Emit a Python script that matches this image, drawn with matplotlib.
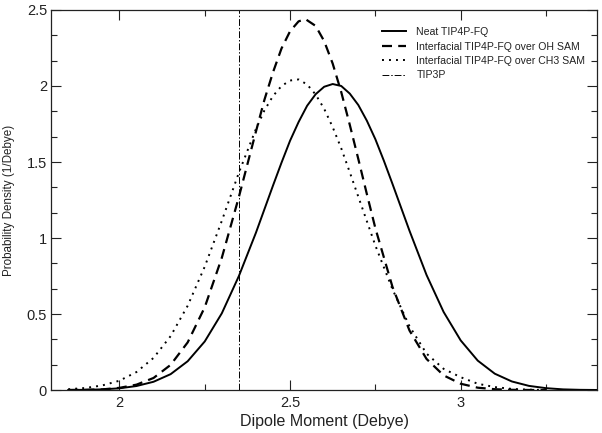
import matplotlib
matplotlib.use("Agg")
import matplotlib.pyplot as plt
from matplotlib.ticker import MultipleLocator, FuncFormatter

plt.rcParams["font.family"] = ["Liberation Sans", "DejaVu Sans"]

# ── Data ──────────────────────────────────────────────────────────────────────
neat_x = [1.85, 1.90, 1.95, 2.00, 2.05, 2.10, 2.15, 2.20, 2.25, 2.30, 2.35,
          2.40, 2.45, 2.475, 2.50, 2.525, 2.55, 2.575, 2.60, 2.625, 2.65,
          2.675, 2.70, 2.725, 2.75, 2.775, 2.80, 2.85, 2.90, 2.95, 3.00,
          3.05, 3.10, 3.15, 3.20, 3.25, 3.30, 3.35, 3.40]
neat_y = [0.001, 0.002, 0.005, 0.012, 0.027, 0.055, 0.105, 0.19, 0.32, 0.505,
          0.75, 1.035, 1.345, 1.496, 1.64, 1.763, 1.87, 1.946, 1.995, 2.013,
          2.0, 1.95, 1.875, 1.772, 1.65, 1.508, 1.357, 1.048, 0.757, 0.514,
          0.327, 0.194, 0.108, 0.057, 0.028, 0.013, 0.005, 0.002, 0.001]

oh_x = [1.85, 1.90, 1.95, 2.00, 2.05, 2.10, 2.15, 2.20, 2.25, 2.30, 2.35,
        2.40, 2.425, 2.45, 2.475, 2.50, 2.525, 2.545, 2.575, 2.60, 2.625,
        2.65, 2.675, 2.70, 2.725, 2.75, 2.80, 2.85, 2.90, 2.95, 3.00, 3.05,
        3.10, 3.15, 3.20, 3.25]
oh_y = [0.001, 0.002, 0.005, 0.015, 0.036, 0.08, 0.166, 0.314, 0.545, 0.87,
        1.27, 1.70, 1.91, 2.09, 2.247, 2.36, 2.425, 2.44, 2.395, 2.295,
        2.147, 1.96, 1.745, 1.52, 1.29, 1.065, 0.68, 0.392, 0.205, 0.097,
        0.042, 0.016, 0.006, 0.002, 0.001, 0.0]

ch3_x = [1.85, 1.90, 1.95, 2.00, 2.05, 2.10, 2.15, 2.20, 2.25, 2.30, 2.35,
         2.40, 2.425, 2.45, 2.475, 2.50, 2.525, 2.55, 2.575, 2.60, 2.625,
         2.65, 2.675, 2.70, 2.75, 2.80, 2.85, 2.90, 2.95, 3.00, 3.05, 3.10,
         3.15, 3.20, 3.25]
ch3_y = [0.006, 0.014, 0.031, 0.062, 0.119, 0.212, 0.355, 0.555, 0.812, 1.113,
         1.43, 1.717, 1.84, 1.934, 2.0, 2.036, 2.043, 2.01, 1.944, 1.85,
         1.729, 1.59, 1.433, 1.272, 0.951, 0.664, 0.42, 0.24, 0.14, 0.085,
         0.042, 0.02, 0.008, 0.003, 0.001]

tip3p_dipole = 2.35

labels = ["Neat TIP4P-FQ",
          "Interfacial TIP4P-FQ over OH SAM",
          "Interfacial TIP4P-FQ over CH3 SAM",
          "TIP3P"]

# ── Figure ────────────────────────────────────────────────────────────────────
fig = plt.figure(figsize=(6.02, 4.33), dpi=100)
ax = fig.add_axes([0.085, 0.099, 0.907, 0.878])

ax.plot(neat_x, neat_y, color="black", lw=1.4, label=labels[0])
ax.plot(oh_x, oh_y, color="black", lw=1.6, linestyle=(0, (4.5, 2.8)),
        label=labels[1])
ax.plot(ch3_x, ch3_y, color="black", lw=1.4, linestyle=(0, (1, 2.6)),
        label=labels[2])
ax.axvline(tip3p_dipole, color="black", lw=0.7,
           linestyle=(0, (7, 2, 1.5, 2)), label=labels[3])

ax.set_xlim(1.8, 3.4)
ax.set_ylim(0, 2.5)
ax.xaxis.set_major_locator(MultipleLocator(0.5))
ax.xaxis.set_minor_locator(MultipleLocator(0.25))
ax.yaxis.set_major_locator(MultipleLocator(0.5))
ax.yaxis.set_minor_locator(MultipleLocator(0.5 / 3))
fmt = FuncFormatter(lambda v, p: f"{v:g}")
ax.xaxis.set_major_formatter(fmt)
ax.yaxis.set_major_formatter(fmt)

ax.tick_params(which="both", direction="in", top=True, right=True,
               colors="#222222", labelsize=10.5)
ax.tick_params(which="major", length=7, width=0.8)
ax.tick_params(which="minor", length=4.5, width=0.8)
ax.tick_params(axis="y", pad=3)
ax.tick_params(axis="x", pad=4)
for spine in ax.spines.values():
    spine.set_linewidth(0.9)
    spine.set_edgecolor("#222222")

ax.set_xlabel("Dipole Moment (Debye)", fontsize=11.5, color="#222222",
              labelpad=3)
ax.set_ylabel("Probability Density (1/Debye)", fontsize=8.4, color="#222222")
ax.yaxis.set_label_coords(-0.066, 0.5)

ax.legend(loc="upper left", bbox_to_anchor=(0.605, 0.955), frameon=False,
          fontsize=7.6, handlelength=2.3, handletextpad=1.0,
          labelspacing=0.42, borderpad=0, borderaxespad=0,
          labelcolor="#222222")

fig.savefig("out.png", dpi=100)
plt.close(fig)
